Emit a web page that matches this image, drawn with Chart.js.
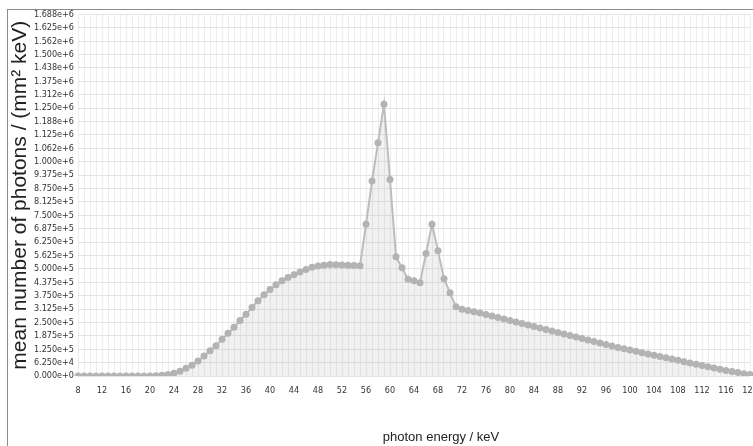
<!DOCTYPE html>
<html>
<head>
<meta charset="utf-8">
<script src="https://cdn.jsdelivr.net/npm/chart.js@4/dist/chart.umd.min.js"></script>
<style>
  html, body { margin: 0; padding: 0; background: #fff; overflow: hidden; }
  #frame { position: absolute; left: 7px; top: 9px; width: 800px; height: 500px;
           border-left: 1px solid #8c8c8c; border-top: 1px solid #8c8c8c; }
  #spectrum { position: absolute; left: 0; top: -5px; }
</style>
</head>
<body>
<div id="frame"><canvas id="spectrum" width="760" height="450"></canvas></div>
<script>
// photon energy in keV, one point per keV
var energies = [];
for (var e = 8; e <= 120; e++) energies.push(e);

// mean number of photons / (mm^2 keV)
var photons = [
    0, 0, 0, 0, 0, 0, 0, 0, 0, 0,                 // 8-17
    0, 0, 500, 1000, 3000, 7000, 13000, 22000,    // 18-25
    36000, 50000, 70000, 93000, 118000, 141000,   // 26-31
    171000, 199000, 227000, 259000, 288000, 320000, // 32-37
    351000, 379000, 404000, 426000, 444000, 460000, // 38-43
    472000, 485000, 497000, 507000, 513000, 517000, // 44-49
    520000, 519000, 518000, 517000, 516000, 515000, // 50-55
    708000, 910000, 1088000, 1268000, 917000,       // 56-60
    556000, 505000, 452000, 444000, 435000,         // 61-65
    572000, 708000, 584000, 454000, 388000, 323000, // 66-71
    312000, 306000, 300000, 294000, 287000, 280000, // 72-77
    273000, 266000, 259000, 252000, 245000, 238000, // 78-83
    231000, 224000, 217000, 210000, 203000, 196000, // 84-89
    189000, 182000, 175000, 168000, 161000, 154000, // 90-95
    147000, 140000, 133000, 127000, 121000, 115000, // 96-101
    109000, 103000, 97000, 91000, 85000, 79000,     // 102-107
    73000, 67000, 61000, 55000, 49000, 43000,       // 108-113
    37000, 31000, 26000, 21000, 16000, 11000, 7000  // 114-120
];

var yStep = 62500;
var yTickLabels = [
    '0.000e+0', '6.250e+4', '1.250e+5', '1.875e+5', '2.500e+5', '3.125e+5', '3.750e+5',
    '4.375e+5', '5.000e+5', '5.625e+5', '6.250e+5', '6.875e+5', '7.500e+5', '8.125e+5',
    '8.750e+5', '9.375e+5', '1.000e+6', '1.062e+6', '1.125e+6', '1.188e+6', '1.250e+6',
    '1.312e+6', '1.375e+6', '1.438e+6', '1.500e+6', '1.562e+6', '1.625e+6', '1.688e+6'
];
var xTitle = 'photon energy / keV';

var tickFont = { family: "'Liberation Sans Narrow', 'DejaVu Sans Condensed', 'Liberation Sans'", size: 9 };

// x title sits right of the plot centre in the original, so draw it by hand
var xTitlePlugin = {
    id: 'xTitle',
    afterDraw: function (c) {
        var g = c.ctx;
        g.save();
        g.font = "13px 'Liberation Sans'";
        g.fillStyle = '#222';
        g.textAlign = 'center';
        g.textBaseline = 'middle';
        g.fillText(xTitle, 433, 432);
        g.restore();
    }
};

var ctx = document.getElementById('spectrum').getContext('2d');
var chart = new Chart(ctx, {
    type: 'line',
    data: {
        labels: energies,
        datasets: [{
            data: photons,
            borderColor: '#bdbdbd',
            borderWidth: 2,
            backgroundColor: 'rgba(160,160,160,0.15)',
            fill: 'origin',
            pointRadius: 3.5,
            pointBackgroundColor: '#b3b3b3',
            pointBorderColor: '#b3b3b3',
            pointBorderWidth: 0,
            tension: 0
        }]
    },
    options: {
        responsive: false,
        animation: false,
        layout: { padding: { top: 0, right: 18, left: 0, bottom: 0 } },
        plugins: { legend: { display: false }, tooltip: { enabled: false } },
        scales: {
            x: {
                grid: { color: '#ececec', drawTicks: false },
                border: { display: false },
                ticks: {
                    autoSkip: false,
                    maxRotation: 0,
                    padding: 9,
                    color: '#333',
                    font: tickFont,
                    callback: function (v, i) {
                        return (energies[i] - 8) % 4 === 0 ? String(energies[i]) : '';
                    }
                },
                afterFit: function (s) { s.height = 79; }
            },
            y: {
                min: 0,
                max: yStep * (yTickLabels.length - 1),
                grid: { color: '#e4e4e4', drawTicks: false },
                border: { display: false },
                ticks: {
                    stepSize: yStep,
                    autoSkip: false,
                    padding: 4,
                    color: '#333',
                    font: tickFont,
                    callback: function (v) {
                        return yTickLabels[Math.round(v / yStep)];
                    }
                },
                title: {
                    display: true,
                    text: 'mean number of photons / (mm\u00b2 keV)',
                    color: '#222',
                    font: { family: "'Liberation Sans'", size: 21 },
                    padding: 0
                },
                afterFit: function (s) { s.width = 70; }
            }
        }
    },
    plugins: [xTitlePlugin]
});
</script>
</body>
</html>
